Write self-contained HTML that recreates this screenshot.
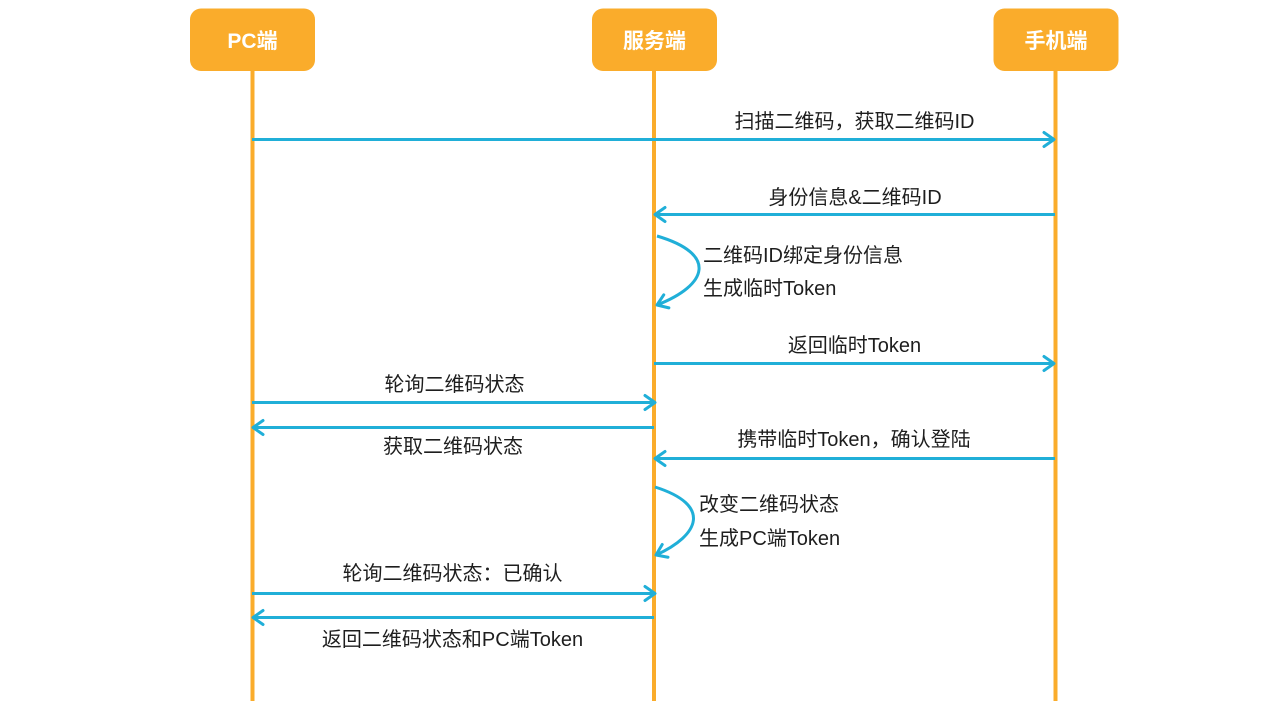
<!DOCTYPE html>
<html>
<head>
<meta charset="utf-8">
<style>
  html, body { margin: 0; padding: 0; background: #ffffff; }
  body { width: 1280px; height: 715px; overflow: hidden; }
  svg { display: block; }
  .lbl { font-family: "Liberation Sans", "Noto Sans CJK SC", sans-serif; font-size: 20px; fill: #1e1e1e; }
  .hd { font-family: "Liberation Sans", "Noto Sans CJK SC", sans-serif; font-size: 21px; font-weight: bold; fill: #ffffff; }
</style>
</head>
<body>
<svg width="1280" height="715" viewBox="0 0 1280 715" xmlns="http://www.w3.org/2000/svg">
  <defs>
    <marker id="ah" markerUnits="userSpaceOnUse" markerWidth="16" markerHeight="18" refX="11" refY="8" orient="auto" overflow="visible">
      <path d="M1,1 L11,8 L1,15" fill="none" stroke="#20AFD8" stroke-width="3" stroke-linecap="round" stroke-linejoin="round"/>
    </marker>
  </defs>

  <!-- lifelines -->
  <line x1="252.5" y1="70" x2="252.5" y2="701" stroke="#FAAC2B" stroke-width="4"/>
  <line x1="654" y1="70" x2="654" y2="701" stroke="#FAAC2B" stroke-width="4"/>
  <line x1="1055.5" y1="70" x2="1055.5" y2="701" stroke="#FAAC2B" stroke-width="4"/>

  <!-- header boxes -->
  <rect x="190" y="8.5" width="125" height="62.5" rx="11" ry="11" fill="#FAAC2B"/>
  <rect x="592" y="8.5" width="125" height="62.5" rx="11" ry="11" fill="#FAAC2B"/>
  <rect x="993.5" y="8.5" width="125" height="62.5" rx="11" ry="11" fill="#FAAC2B"/>
  <text class="hd" x="252.5" y="48" text-anchor="middle">PC端</text>
  <text class="hd" x="654.5" y="48" text-anchor="middle">服务端</text>
  <text class="hd" x="1056" y="48" text-anchor="middle">手机端</text>

  <!-- messages -->
  <g stroke="#20AFD8" stroke-width="3" fill="none" marker-end="url(#ah)">
    <line x1="252" y1="139.5" x2="1054" y2="139.5"/>
    <line x1="1055" y1="214.5" x2="655" y2="214.5"/>
    <line x1="654" y1="363.5" x2="1054" y2="363.5"/>
    <line x1="252" y1="402.5" x2="655" y2="402.5"/>
    <line x1="654" y1="427.5" x2="253" y2="427.5"/>
    <line x1="1055" y1="458.5" x2="655" y2="458.5"/>
    <line x1="252" y1="593.5" x2="655" y2="593.5"/>
    <line x1="654" y1="617.5" x2="253" y2="617.5"/>
    <path d="M657,236 C718,254 708,285 657,305"/>
    <path d="M655,487 C712,505 700,535 656,555"/>
  </g>

  <!-- labels -->
  <text class="lbl" x="854.5" y="128" text-anchor="middle">扫描二维码，获取二维码ID</text>
  <text class="lbl" x="855" y="204" text-anchor="middle">身份信息&amp;二维码ID</text>
  <text class="lbl" x="703" y="262">二维码ID绑定身份信息</text>
  <text class="lbl" x="703" y="295">生成临时Token</text>
  <text class="lbl" x="854.5" y="352" text-anchor="middle">返回临时Token</text>
  <text class="lbl" x="454.5" y="391" text-anchor="middle">轮询二维码状态</text>
  <text class="lbl" x="854" y="446" text-anchor="middle">携带临时Token，确认登陆</text>
  <text class="lbl" x="453" y="453" text-anchor="middle">获取二维码状态</text>
  <text class="lbl" x="699" y="511">改变二维码状态</text>
  <text class="lbl" x="699" y="545">生成PC端Token</text>
  <text class="lbl" x="452.5" y="580" text-anchor="middle">轮询二维码状态：已确认</text>
  <text class="lbl" x="452.5" y="646" text-anchor="middle">返回二维码状态和PC端Token</text>
</svg>
</body>
</html>
